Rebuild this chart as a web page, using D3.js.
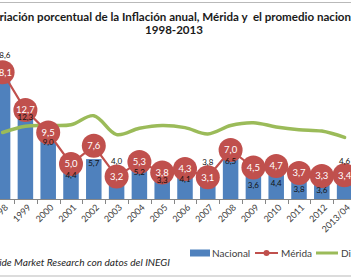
<!DOCTYPE html>
<html>
<head>
<meta charset="utf-8">
<script src="https://cdn.jsdelivr.net/npm/d3@7"></script>
<style>
  body { margin: 0; background: #fff; }
  svg { display: block; font-family: Lato, "Open Sans", sans-serif; }
</style>
</head>
<body>
<svg width="351" height="278"></svg>
<script>
// chart data
var years = ['1998','1999','2000','2001','2002','2003','2004','2005','2006','2007','2008','2009','2010','2011','2012','2013/04'];
var nacional = [18.6, 12.3, 9.0, 4.4, 5.7, 4.0, 5.2, 3.3, 4.1, 3.8, 6.5, 3.6, 4.4, 3.8, 3.6, 4.6];
var merida = [18.1, 12.7, 9.5, 5.0, 7.6, 3.2, 5.3, 3.8, 4.3, 3.1, 7.0, 4.5, 4.7, 3.7, 3.3, 3.4];
var diferencia = [-0.5, 0.4, 0.5, 0.6, 1.9, -0.8, 0.1, 0.5, 0.2, -0.7, 0.5, 0.9, 0.3, -0.1, -0.3, -1.2];
var seriesNames = ['Nacional', 'Mérida', 'Diferencia'];
var title1 = 'Variación porcentual de la Inflación anual, Mérida y  el promedio nacional';
var title2 = '1998-2013';
var source = 'Fuente: Inside Market Research con datos del INEGI';

// where each Nacional label sits relative to its bar top (px, + is down)
var nacLabelOffset = [-14, 4, 6, 7, 4, -10, 10, 4, 9, -10, 8, 11, 15, 17, 16, -6];

var colors = { nac: '#4F81BD', mer: '#C0504D', dif: '#9BBB59' };
var fmt = function(v) { return d3.format('.1f')(v).replace('.', ','); };

var svg = d3.select('svg');

// chart border (only top and bottom edges show)
svg.append('rect')
   .attr('x', -3).attr('y', 2.5).attr('width', 357).attr('height', 273.5)
   .attr('fill', 'none').attr('stroke', '#b9b9b9');

// plot area runs off both sides of the picture
var plot = { left: -8.8, right: 356, top: 59, bottom: 199 };

var x = d3.scaleBand()
          .domain(years)
          .range([plot.left, plot.right])
          .paddingInner(0.32)
          .paddingOuter(0.16);

var y = d3.scaleLinear().domain([0, 20]).range([plot.bottom, plot.top]);
var y2 = d3.scaleLinear().domain([-10, 10]).range([plot.bottom, plot.top]);

var cx = function(i) { return x(years[i]) + x.bandwidth() / 2; };

// bars
svg.selectAll('.bar')
   .data(nacional)
   .enter()
   .append('rect')
   .attr('class', 'bar')
   .attr('x', function(d, i) { return x(years[i]); })
   .attr('y', function(d) { return y(d); })
   .attr('width', x.bandwidth())
   .attr('height', function(d) { return y(0) - y(d); })
   .attr('fill', colors.nac);

// x axis: line, ticks between categories, rotated labels
svg.append('line')
   .attr('x1', plot.left).attr('x2', plot.right)
   .attr('y1', y(0) + 0.5).attr('y2', y(0) + 0.5)
   .attr('stroke', '#868686');

var step = x.step();
svg.selectAll('.tick')
   .data(years)
   .enter()
   .append('line')
   .attr('x1', function(d) { return Math.round(x(d) - step * x.paddingInner() / 2) + 0.5; })
   .attr('x2', function(d) { return Math.round(x(d) - step * x.paddingInner() / 2) + 0.5; })
   .attr('y1', y(0)).attr('y2', y(0) + 5)
   .attr('stroke', '#868686');

svg.selectAll('.xlab')
   .data(years)
   .enter()
   .append('text')
   .attr('class', 'xlab')
   .attr('text-anchor', 'end')
   .attr('transform', function(d, i) {
     return 'translate(' + (cx(i) + 6) + ',' + (y(0) + 9) + ') rotate(-45)';
   })
   .style('font-size', '9px')
   .attr('fill', '#404040')
   .text(function(d) { return d; });

// Diferencia: smoothed line on the secondary axis
var difLine = d3.line()
                .x(function(d, i) { return cx(i); })
                .y(function(d) { return y2(d); })
                .curve(d3.curveCatmullRom.alpha(0.5));

svg.append('path')
   .datum(diferencia)
   .attr('d', difLine)
   .attr('fill', 'none')
   .attr('stroke', colors.dif)
   .attr('stroke-width', 3.5)
   .attr('stroke-linecap', 'round');

// Mérida: straight line with big markers
var merLine = d3.line()
                .x(function(d, i) { return cx(i); })
                .y(function(d) { return y(d); });

svg.append('path')
   .datum(merida)
   .attr('d', merLine)
   .attr('fill', 'none')
   .attr('stroke', colors.mer)
   .attr('stroke-width', 2.2);

svg.selectAll('.dot')
   .data(merida)
   .enter()
   .append('circle')
   .attr('class', 'dot')
   .attr('cx', function(d, i) { return cx(i); })
   .attr('cy', function(d) { return y(d); })
   .attr('r', 12)
   .attr('fill', colors.mer);

svg.selectAll('.merlab')
   .data(merida)
   .enter()
   .append('text')
   .attr('class', 'merlab')
   .attr('x', function(d, i) { return cx(i); })
   .attr('y', function(d) { return y(d); })
   .attr('dy', '0.35em')
   .attr('text-anchor', 'middle')
   .style('font-size', '9.5px')
   .attr('fill', '#fff')
   .text(fmt);

// Nacional labels go on top of everything
svg.selectAll('.naclab')
   .data(nacional)
   .enter()
   .append('text')
   .attr('class', 'naclab')
   .attr('x', function(d, i) { return cx(i); })
   .attr('y', function(d, i) { return y(d) + nacLabelOffset[i]; })
   .attr('dy', '0.35em')
   .attr('text-anchor', 'middle')
   .style('font-size', '8px')
   .attr('fill', '#111')
   .text(fmt);

// title, fitted so the visible part spans the picture
var t1 = svg.append('text')
            .attr('y', 21)
            .style('font-weight', 'bold')
            .style('font-size', '11px')
            .style('white-space', 'pre')
            .attr('fill', '#1a1a1a')
            .text(title1);
var n1 = t1.node();
var pre = n1.getSubStringLength(0, 2);
var vis = n1.getSubStringLength(2, title1.length - 4);
var fs = 11 * 352 / vis;
t1.style('font-size', fs + 'px').attr('x', -pre * fs / 11 - 0.5);

svg.append('text')
   .attr('x', 174).attr('y', 34)
   .attr('text-anchor', 'middle')
   .style('font-weight', 'bold')
   .style('font-size', fs + 'px')
   .attr('fill', '#1a1a1a')
   .text(title2);

// legend
var lg = svg.append('g').attr('transform', 'translate(0,253)');
lg.append('rect').attr('x', 190).attr('y', -3.5).attr('width', 20).attr('height', 7).attr('fill', colors.nac);
lg.append('line').attr('x1', 255).attr('x2', 278).attr('stroke', colors.mer).attr('stroke-width', 2);
lg.append('circle').attr('cx', 266.5).attr('r', 3).attr('fill', colors.mer);
lg.append('line').attr('x1', 316).attr('x2', 338).attr('stroke', colors.dif).attr('stroke-width', 3);
lg.selectAll('text')
  .data(seriesNames)
  .enter()
  .append('text')
  .attr('x', function(d, i) { return [212, 281, 341][i]; })
  .attr('dy', '0.35em')
  .style('font-size', '10px')
  .attr('fill', '#404040')
  .text(function(d) { return d; });

// source note, cut off at the left like the original
var src = svg.append('text')
             .attr('x', 170).attr('y', 266)
             .attr('text-anchor', 'end')
             .style('font-size', '10px')
             .style('font-style', 'italic')
             .attr('fill', '#262626')
             .text(source);
var cut = source.indexOf('ide Market');
var srcVis = src.node().getSubStringLength(cut, source.length - cut);
src.style('font-size', (10 * 171 / srcVis) + 'px');
</script>
</body>
</html>
